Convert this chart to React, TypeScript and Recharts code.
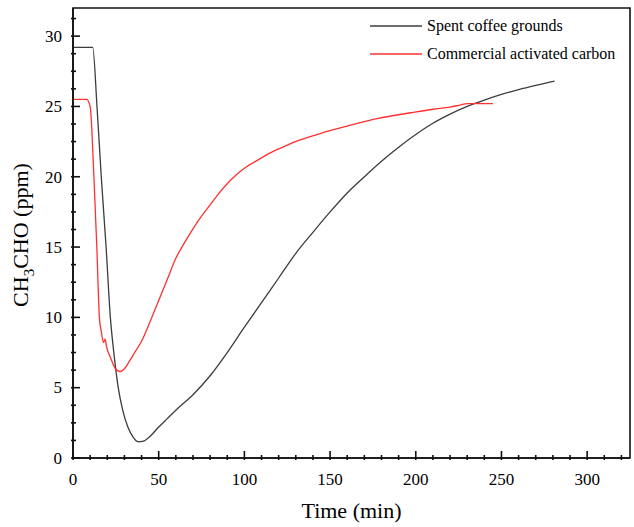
import { Legend, Line, LineChart, ReferenceArea, XAxis, YAxis } from "recharts";

const serif = '"Liberation Serif", "Times New Roman", serif';

// spent coffee grounds
const coffeeTime = [
  0, 5, 11.5, 14, 16.5, 19.3, 21.8, 24, 26.4, 29, 32, 35, 38, 41, 45, 50, 55,
  60, 70, 80, 90, 100, 110, 120, 130, 140, 150, 160, 170, 180, 190, 200, 210,
  220, 230, 240, 250, 260, 270, 281,
];
const coffeeConc = [
  29.2, 29.2, 29.2, 25, 20, 15, 10, 7.3, 5, 3.4, 2.2, 1.5, 1.15, 1.2, 1.55,
  2.2, 2.8, 3.4, 4.5, 5.85, 7.5, 9.3, 11.05, 12.8, 14.55, 16.05, 17.5, 18.85,
  20.0, 21.1, 22.1, 23.0, 23.8, 24.45, 25.0, 25.45, 25.85, 26.2, 26.5, 26.8,
];

// commercial activated carbon
const carbonTime = [
  0, 4, 8, 10, 12.2, 13.9, 15.4, 16.5, 17.8, 18.7, 19.6, 22, 24.5, 27.4, 30,
  33, 36, 40, 45, 50, 55, 60, 65, 70, 75, 80, 85, 90, 95, 100, 108, 116, 124,
  132, 145, 160, 178, 197, 210, 220, 226, 230, 245,
];
const carbonConc = [
  25.5, 25.5, 25.5, 25, 20, 15, 10, 9.0, 8.2, 8.46, 7.9, 7.1, 6.4, 6.15, 6.35,
  6.9, 7.5, 8.3, 9.7, 11.2, 12.7, 14.2, 15.3, 16.3, 17.2, 18.0, 18.8, 19.5,
  20.1, 20.6, 21.2, 21.75, 22.2, 22.6, 23.1, 23.6, 24.15, 24.55, 24.8, 24.95,
  25.1, 25.2, 25.2,
];

// minor ticks every 10 min / 1.25 ppm, labelled every 50 / 5
const xTicks = Array.from({ length: 33 }, (_, i) => i * 10);
const yTicks = Array.from({ length: 26 }, (_, i) => i * 1.25);

const coffeeData = coffeeTime.map((t, i) => ({ t, v: coffeeConc[i] }));
const carbonData = carbonTime.map((t, i) => ({ t, v: carbonConc[i] }));

const series = [
  { name: "Spent coffee grounds", color: "#3c3c3c", data: coffeeData },
  { name: "Commercial activated carbon", color: "#ff3030", data: carbonData },
];

const INK = "#111";
const TICK_W = 1.6;

const XTick = (props: any) => {
  const { x, y, payload } = props;
  const major = payload.value % 50 === 0;
  return (
    <g>
      <line x1={x} x2={x} y1={y} y2={y - (major ? 9 : 5)} stroke={INK} strokeWidth={TICK_W} />
      {major && (
        <text x={x} y={y + 25} textAnchor="middle" fontSize={17} fontFamily={serif} fill="#000">
          {payload.value}
        </text>
      )}
    </g>
  );
};

const YTick = (props: any) => {
  const { x, y, payload } = props;
  const major = payload.value % 5 === 0;
  return (
    <g>
      <line x1={x} x2={x + (major ? 9 : 5)} y1={y} y2={y} stroke={INK} strokeWidth={TICK_W} />
      {major && (
        <text x={x - 9} y={y} dy="0.34em" textAnchor="end" fontSize={17} fontFamily={serif} fill="#000">
          {payload.value}
        </text>
      )}
    </g>
  );
};

const XTitle = (p: any) => {
  const vb = p.viewBox;
  return (
    <text x={vb.x + vb.width / 2} y={vb.y + 60} textAnchor="middle" fontSize={22} fontFamily={serif} fill="#000">
      Time (min)
    </text>
  );
};

const YTitle = (p: any) => {
  const vb = p.viewBox;
  const cx = 28;
  const cy = vb.y + vb.height / 2 + 2;
  return (
    <text x={cx} y={cy} textAnchor="middle" fontSize={22} fontFamily={serif} fill="#000" transform={`rotate(-90, ${cx}, ${cy})`}>
      CH
      <tspan fontSize={15} dy={6}>3</tspan>
      <tspan dy={-6}>CHO (ppm)</tspan>
    </text>
  );
};

const LegendBox = () => (
  <div style={{ fontFamily: serif, fontSize: 16, color: "#000" }}>
    {series.map((s) => (
      <div key={s.name} style={{ display: "flex", alignItems: "center", height: 28, whiteSpace: "nowrap" }}>
        <svg width={52} height={4} style={{ marginRight: 5 }}>
          <line x1={0} x2={52} y1={2} y2={2} stroke={s.color} strokeWidth={1.3} />
        </svg>
        <span>{s.name}</span>
      </div>
    ))}
  </div>
);

export default function App() {
  return (
    <div style={{ position: "relative", width: 634, height: 527 }}>
      <style>{`body{margin:0}`}</style>
      <LineChart width={634} height={527} margin={{ top: 8, right: 4, bottom: 0, left: 0 }}>
        <ReferenceArea x1={0} x2={325} y1={0} y2={32} fill="none" stroke={INK} strokeWidth={TICK_W} ifOverflow="visible" />
        <XAxis
          dataKey="t"
          type="number"
          domain={[0, 325]}
          ticks={xTicks}
          interval={0}
          tickSize={0}
          tick={<XTick />}
          height={69}
          stroke={INK}
          strokeWidth={TICK_W}
          label={<XTitle />}
        />
        <YAxis
          type="number"
          domain={[0, 32]}
          ticks={yTicks}
          interval={0}
          tickSize={0}
          tick={<YTick />}
          width={73}
          stroke={INK}
          strokeWidth={TICK_W}
          label={<YTitle />}
        />
        <Legend
          layout="vertical"
          align="center"
          verticalAlign="middle"
          content={() => <LegendBox />}
          wrapperStyle={{ position: "absolute", left: 370, top: 12, width: "auto" }}
        />
        {series.map((s) => (
          <Line
            key={s.name}
            data={s.data}
            dataKey="v"
            name={s.name}
            type="monotone"
            stroke={s.color}
            strokeWidth={1.3}
            dot={false}
            isAnimationActive={false}
          />
        ))}
      </LineChart>
    </div>
  );
}
